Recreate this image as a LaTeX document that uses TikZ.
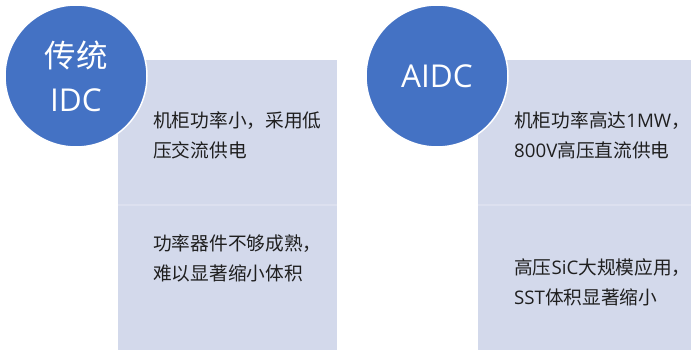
\documentclass[tikz,border=0pt]{standalone}
\usepackage{fontspec}
\setmainfont{Noto Sans CJK SC}
\newfontfamily\cjk{Noto Sans CJK SC}
\newfontfamily\lat{Open Sans}
\definecolor{circblue}{HTML}{4472C4}
\definecolor{panel}{HTML}{D3D9EB}
\definecolor{divline}{HTML}{DCE0EF}
\definecolor{txt}{HTML}{1F1F1F}
\begin{document}
\begin{tikzpicture}[x=1pt,y=-1pt,
  panelbox/.style={fill=panel,draw=none},
  badge/.style={circle,fill=circblue,draw=white,line width=1.5pt,minimum size=142pt,inner sep=0pt,text=white,font=\cjk\fontsize{31.5}{42}\selectfont,align=center},
  bodytext/.style={anchor=west,align=left,text=txt,font=\cjk\fontsize{18.7}{30}\selectfont,inner sep=0pt}]
\useasboundingbox (0,0) rectangle (691,352);
% left panel
\fill[panel] (118,60) rectangle (337,350);
\draw[divline,line width=1.2pt] (118,205) -- (337,205);
% right panel
\fill[panel] (478,60) rectangle (691,350);
\draw[divline,line width=1.2pt] (478,205) -- (691,205);
% circles
\node[badge] (c1) at (76,76) {\raisebox{5pt}{传统}\\[-3pt]{\lat IDC}};
\node[badge] (c2) at (437,76) {\lat AIDC};
% texts
\node[bodytext] (t1) at (153,135) {机柜功率小，采用低\\压交流供电};
\node[bodytext] (t2) at (153,258) {功率器件不够成熟，\\难以显著缩小体积};
\node[bodytext] (t3) at (514,135) {机柜功率高达{\lat 1MW}，\\{\lat 800V}高压直流供电};
\node[bodytext] (t4) at (514,282) {高压{\lat SiC}大规模应用，\\{\lat SST}体积显著缩小};
\end{tikzpicture}
\end{document}
